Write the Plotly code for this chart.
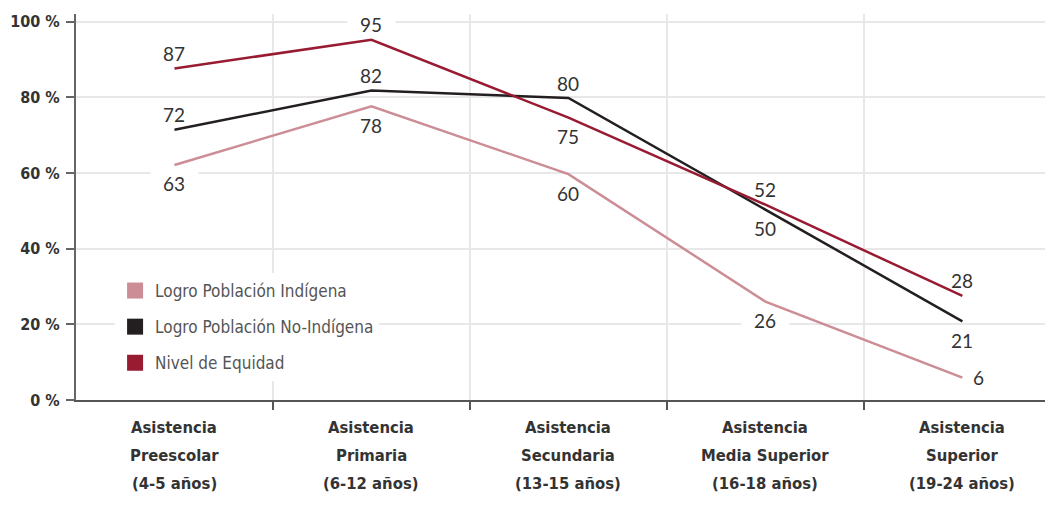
import plotly.graph_objects as go

categories = [
    "Asistencia<br>Preescolar<br>(4-5 años)",
    "Asistencia<br>Primaria<br>(6-12 años)",
    "Asistencia<br>Secundaria<br>(13-15 años)",
    "Asistencia<br>Media Superior<br>(16-18 años)",
    "Asistencia<br>Superior<br>(19-24 años)",
]
indigena = [62.1, 77.6, 59.7, 26.0, 5.9]
indigena_labels = ["63", "78", "60", "26", "6"]
no_indigena = [71.4, 81.8, 79.8, 50.3, 20.8]
no_indigena_labels = ["72", "82", "80", "50", "21"]
equidad = [87.6, 95.2, 74.6, 51.6, 27.5]
equidad_labels = ["87", "95", "75", "52", "28"]

y_tickvals = [0, 20, 40, 60, 80, 100]
y_ticktext = ["0 %", "20 %", "40 %", "60 %", "80 %", "100 %"]

# label placement: "a" above, "b" below, "r" right
indigena_pos = ["b", "b", "b", "b", "r"]
no_indigena_pos = ["a", "a", "a", "b", "b"]
equidad_pos = ["a", "a", "b", "a", "a"]

series = [
    ("Logro Población Indígena", indigena, indigena_labels, indigena_pos, "#cc8d96"),
    ("Logro Población No-Indígena", no_indigena, no_indigena_labels, no_indigena_pos, "#231f20"),
    ("Nivel de Equidad", equidad, equidad_labels, equidad_pos, "#981b32"),
]

COND = "Liberation Sans Narrow, DejaVu Sans Condensed, Arial Narrow, sans-serif"
NUM = "Lato, Open Sans, sans-serif"

idx = list(range(len(categories)))

fig = go.Figure()
for name, vals, labs, pos, color in series:
    fig.add_trace(go.Scatter(x=idx, y=vals, mode="lines", name=name,
                             line=dict(color=color, width=2.5), showlegend=False))
for k, (name, vals, labs, pos, color) in enumerate(series):
    fig.add_trace(go.Scatter(x=[None], y=[None], mode="markers", name=name,
                             legendgroup=f"g{k}",
                             marker=dict(symbol="square", size=16, color=color)))

for name, vals, labs, pos, color in series:
    for i, v, lab, p in zip(idx, vals, labs, pos):
        xs, ys = 0, 0
        if p == "a":
            ys = 15
        elif p == "b":
            ys = -19
        else:
            xs = 16
        if p != "r":
            fig.add_shape(type="rect", xref="x", yref="y", layer="between",
                          xsizemode="pixel", ysizemode="pixel",
                          xanchor=i, yanchor=v, x0=-24, x1=24,
                          y0=ys - 12, y1=ys + 12,
                          fillcolor="white", line=dict(width=0))
        fig.add_annotation(x=i, y=v, text=lab, showarrow=False,
                           xshift=xs, yshift=ys,
                           font=dict(family=NUM, size=19, color="#333333"))

# category labels, one annotation per line
for i, c in enumerate(categories):
    for j, line in enumerate(c.split("<br>")):
        fig.add_annotation(x=i, y=0, xref="x", yref="paper", text=line,
                           showarrow=False, yanchor="middle",
                           yshift=-(27 + 28 * j),
                           font=dict(family=COND, size=16.5, color="#333333",
                                     weight="bold"))

fig.update_layout(
    width=1045, height=505,
    margin=dict(l=68, r=0, t=6, b=113),
    paper_bgcolor="white", plot_bgcolor="white",
    legend=dict(x=0.04, y=0.329, xanchor="left", yanchor="top",
                font=dict(family=COND, size=17, color="#555555"),
                bgcolor="white", tracegroupgap=11, itemsizing="trace"),
)
fig.update_xaxes(
    range=[-0.5, 4.46], tickvals=[0.5, 1.5, 2.5, 3.5], ticktext=["", "", "", ""],
    showgrid=True, gridcolor="#e8e8e8", gridwidth=1.5, zeroline=False,
    showline=True, linecolor="#555555", linewidth=2, automargin=False,
    ticks="outside", ticklen=8, tickcolor="#555555", tickwidth=2,
)
fig.update_yaxes(
    range=[0, 102], tickvals=y_tickvals, ticktext=y_ticktext,
    showgrid=True, gridcolor="#e8e8e8", gridwidth=1.5, zeroline=False,
    showline=True, linecolor="#666666", linewidth=2, automargin=False,
    ticks="outside", ticklen=8, tickcolor="#666666", tickwidth=2,
    ticklabelstandoff=3,
    tickfont=dict(family=COND, size=16, color="#333333", weight="bold"),
)

fig.write_html("out.html")
